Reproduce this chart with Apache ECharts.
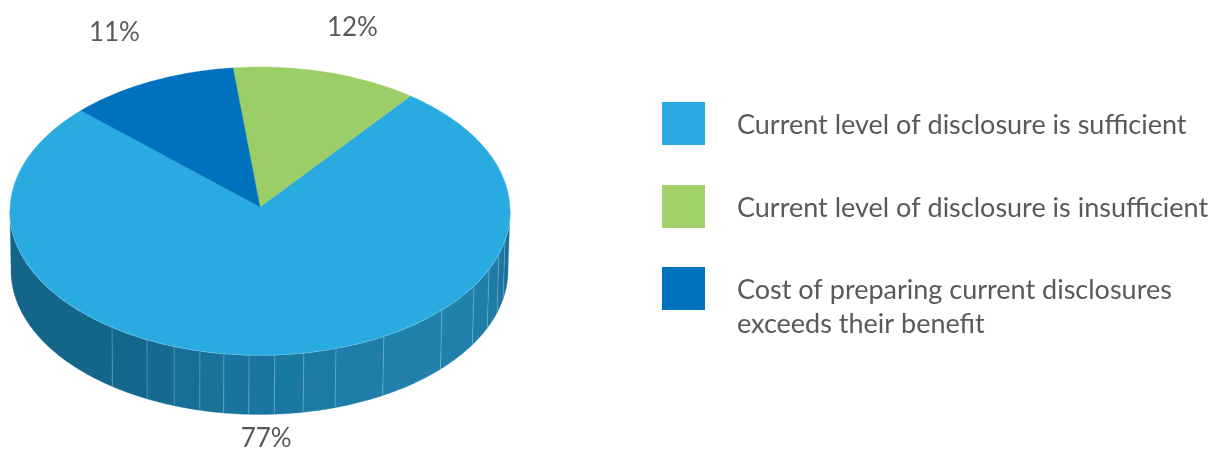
<!DOCTYPE html>
<html>
<head>
<meta charset="utf-8">
<style>html,body{margin:0;padding:0;background:#fff}#c{width:1220px;height:449px}</style>
<script src="https://cdn.jsdelivr.net/npm/echarts@6/dist/echarts.min.js"></script>
</head>
<body>
<div id="c"></div>
<script>
const categories = [
  'Current level of disclosure is sufficient',
  'Current level of disclosure is insufficient',
  'Cost of preparing current disclosures\nexceeds their benefit'
];
const values = [77, 12, 11];
const sliceColors = ['#29ABE2', '#9CCE67', '#0071BC'];
const legendColors = ['#29ABE2', '#A2D169', '#0071BC'];
// Facets of the pie's side wall: seam angles (deg from the front, + = right) and shades
const wallSeams = [-90, -36.3, -26.9, -20.1, -13.9, -8.3, -2.5, 3.4, 10.1, 17.7, 29.7, 46.7, 58.9, 66.4, 72.9, 78.6, 90];
const wallShades = ['#13658A', '#14678C', '#156B92', '#176F97', '#18729A', '#19749D', '#1A76A0', '#1B78A2',
  '#1C7AA5', '#1E7DA9', '#2081AD', '#2081AD', '#1F7FAB', '#1E7BA7', '#1C76A1', '#1B7099'];

// Layout of the tilted pie
const top3d = {cx: 260, cy: 211, rx: 250, ry: 144, apexX: 260, apexY: 207};
const bot3d = {cx: 259.5, cy: 270.5, rx: 248.5, ry: 144};
const firstEdgeDeg = 37;                 // green slice's right edge, clockwise from 12 o'clock
const labelOffsets = [[-13, 84], [26, -45], [-36, -49]];
const textColor = '#595959';
const fontFamily = 'Lato, Carlito, sans-serif';

const rad = d => d * Math.PI / 180;
const rim = (e, deg) => [e.cx + e.rx * Math.sin(rad(deg)), e.cy - e.ry * Math.cos(rad(deg))];

// Slice angles derived from the values
const total = values.reduce((a, b) => a + b, 0);
const order = [0, 1, 2];
const spans = values.map(v => v / total * 360);
const ranges = [];
ranges[0] = [firstEdgeDeg, firstEdgeDeg + spans[0]];
ranges[1] = [firstEdgeDeg - spans[1], firstEdgeDeg];
ranges[2] = [firstEdgeDeg - spans[1] - spans[2], firstEdgeDeg - spans[1]];

function sliceItem(i) {
  return function () {
    const [a, b] = ranges[i];
    const pts = [[top3d.apexX, top3d.apexY]];
    const n = Math.max(6, Math.round((b - a) * 2));
    for (let k = 0; k <= n; k++) pts.push(rim(top3d, a + (b - a) * k / n));
    const mid = (a + b) / 2;
    const m = rim(top3d, mid);
    return {
      type: 'group',
      children: [
        {type: 'polygon', shape: {points: pts}, style: {fill: sliceColors[i], stroke: sliceColors[i], lineWidth: 0.3}},
        {type: 'text', style: {
          x: m[0] + labelOffsets[i][0], y: m[1] + labelOffsets[i][1],
          text: values[i] + '%', fill: textColor,
          font: '26px ' + fontFamily, textAlign: 'center', textVerticalAlign: 'middle'
        }}
      ]
    };
  };
}

function wallItem() {
  const children = [];
  for (let s = 0; s < wallShades.length; s++) {
    const a = 180 - wallSeams[s], b = 180 - wallSeams[s + 1];
    const pts = [];
    const n = Math.max(4, Math.round(Math.abs(a - b) * 2));
    for (let k = 0; k <= n; k++) pts.push(rim(top3d, a + (b - a) * k / n));
    for (let k = n; k >= 0; k--) pts.push(rim(bot3d, a + (b - a) * k / n));
    children.push({type: 'polygon', shape: {points: pts},
      style: {fill: wallShades[s], stroke: wallShades[s], lineWidth: 0.3}});
  }
  for (let s = 1; s < wallSeams.length - 1; s++) {
    const d = 180 - wallSeams[s];
    const p = rim(top3d, d), q = rim(bot3d, d);
    children.push({type: 'line', shape: {x1: p[0], y1: p[1], x2: q[0], y2: q[1]},
      style: {stroke: 'rgba(255,255,255,0.22)', lineWidth: 1}});
  }
  const edge = [];
  for (let d = 90; d <= 270; d += 1) edge.push(rim(top3d, d));
  children.push({type: 'polyline', shape: {points: edge},
    style: {stroke: '#9BD6EE', lineWidth: 1.2, fill: 'none'}});
  return {type: 'group', children};
}

const slices = order.map(i => ({
  type: 'custom', name: categories[i], coordinateSystem: 'none', silent: true, z: 3,
  itemStyle: {color: sliceColors[i]},
  data: [[values[i]]], renderItem: sliceItem(i)
}));

const legendTops = [102, 185, 237.5];
const legends = categories.map((c, i) => ({
  show: true, orient: 'vertical', left: 662, top: legendTops[i], padding: 0,
  data: [c], icon: 'rect', itemWidth: 43, itemHeight: 43, selectedMode: false,
  itemStyle: {color: legendColors[i]},
  // a blank first line keeps the icon centred on the first text line of the two-line item
  formatter: n => {
    const lines = n.split('\n');
    if (lines.length > 1) lines.unshift(' ');
    return lines.map(l => '{t|' + l + '}').join('\n');
  },
  textStyle: {
    color: textColor, fontFamily: fontFamily, fontSize: 27, lineHeight: 34,
    rich: {t: {color: textColor, fontFamily: fontFamily, fontSize: 27, lineHeight: 34, padding: [4, 0, 0, 27]}}
  }
}));

const chart = echarts.init(document.getElementById('c'), null, {renderer: 'canvas'});
chart.setOption({
  animation: false,
  backgroundColor: '#fff',
  tooltip: {show: false},
  legend: legends,
  series: [
    {type: 'custom', name: 'wall', coordinateSystem: 'none', silent: true, z: 2, data: [[0]], renderItem: wallItem}
  ].concat(slices)
});
</script>
</body>
</html>
